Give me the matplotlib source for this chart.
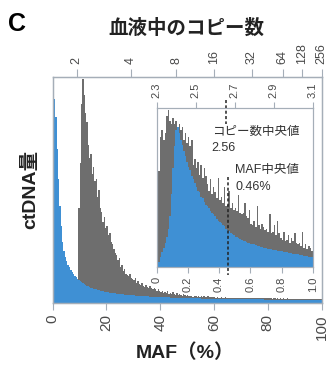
import numpy as np
import matplotlib
matplotlib.use('Agg')
import matplotlib.pyplot as plt

# ---- data ----
# main panel: MAF 0-100 %, 0.5 % bins
main_blue = [
    88, 90, 82, 68, 55, 43, 34, 27, 23, 20.5,
    18.5, 17, 15.8, 14.6, 13.6, 12.8, 12, 11.3, 10.7, 10.1,
    9.5, 9.1, 8.7, 8.3, 8.0, 7.7, 7.4, 7.1, 6.8, 6.6,
    6.4, 6.2, 6.0, 5.8, 5.6, 5.5, 5.3, 5.2, 5.0, 4.9,
    4.8, 4.7, 4.6, 4.5, 4.4, 4.3, 4.2, 4.1, 4.0, 3.95,
    3.9, 3.85, 3.8, 3.7, 3.65, 3.6, 3.55, 3.5, 3.45, 3.4,
    3.35, 3.3, 3.25, 3.2, 3.15, 3.1, 3.05, 3.0, 3.0, 2.95,
    2.9, 2.9, 2.85, 2.8, 2.8, 2.75, 2.7, 2.7, 2.65, 2.6,
    2.6, 2.55, 2.55, 2.5, 2.5, 2.45, 2.45, 2.4, 2.4, 2.35,
    2.35, 2.3, 2.3, 2.3, 2.25, 2.25, 2.2, 2.2, 2.2, 2.15,
    2.15, 2.1, 2.1, 2.1, 2.05, 2.05, 2.0, 2.0, 2.0, 2.0,
    1.95, 1.95, 1.95, 1.9, 1.9, 1.9, 1.9, 1.85, 1.85, 1.85,
    1.85, 1.8, 1.8, 1.8, 1.8, 1.8, 1.75, 1.75, 1.75, 1.75,
    1.75, 1.7, 1.7, 1.7, 1.7, 1.7, 1.7, 1.65, 1.65, 1.65,
    1.65, 1.65, 1.65, 1.6, 1.6, 1.6, 1.6, 1.6, 1.6, 1.6,
    1.55, 1.55, 1.55, 1.55, 1.55, 1.55, 1.55, 1.5, 1.5, 1.5,
    1.5, 1.5, 1.5, 1.5, 1.5, 1.45, 1.45, 1.45, 1.45, 1.45,
    1.45, 1.45, 1.45, 1.45, 1.4, 1.4, 1.4, 1.4, 1.4, 1.4,
    1.4, 1.4, 1.4, 1.4, 1.4, 1.35, 1.35, 1.35, 1.35, 1.35,
    1.35, 1.35, 1.35, 1.35, 1.35, 1.3, 1.3, 1.3, 1.3, 1.3,
]
main_gray = [
    0, 0, 0, 0, 0, 0, 0, 0, 0, 0,
    0, 0, 0, 0, 0, 0, 0, 0, 0, 42,
    62, 88, 99, 92, 84, 80, 70, 64, 66, 57,
    60, 54, 55, 47, 50, 42, 40, 36, 38, 33,
    34, 30, 31, 27, 26, 24, 22, 21, 19, 20,
    16, 17, 14, 15, 13, 12.5, 12, 13, 11, 10.5,
    10, 11, 9, 9.5, 8.5, 8, 9, 7.5, 7, 8,
    7, 6.5, 7.5, 6.5, 6, 6.5, 6, 5.5, 6, 5.5,
    5, 5.5, 4.5, 5, 4.5, 5.5, 4, 4.5, 4, 5,
    4, 3.5, 4.5, 3.5, 4, 3.5, 3, 4, 3.5, 3,
    3.4, 2.9, 3.3, 2.9, 2.7, 3.1, 2.9, 2.7, 3.1, 2.7,
    2.9, 2.6, 2.9, 2.7, 2.5, 2.9, 2.6, 2.5, 2.8, 2.5,
    2.5, 2.4, 2.6, 2.4, 2.3, 2.5, 2.4, 2.3, 2.5, 2.3,
    2.4, 2.3, 2.2, 2.4, 2.3, 2.2, 2.4, 2.2, 2.3, 2.2,
    2.3, 2.2, 2.1, 2.3, 2.2, 2.1, 2.2, 2.1, 2.3, 2.1,
    2.2, 2.1, 2.1, 2.2, 2.0, 2.1, 2.2, 2.0, 2.1, 2.0,
    2.1, 2.0, 2.1, 1.9, 2.0, 2.1, 1.9, 2.0, 1.9, 2.0,
    1.9, 2.0, 1.9, 1.9, 2.0, 1.8, 1.9, 1.9, 1.8, 1.9,
    1.8, 1.9, 1.8, 1.8, 1.9, 1.8, 1.7, 1.8, 1.8, 1.7,
    1.8, 1.7, 1.7, 1.8, 1.7, 1.7, 1.6, 1.7, 1.7, 1.6,
]

# inset: MAF 0-1 %, 0.01 % bins
inset_gray = [
    58, 60, 82, 86, 80, 84, 95, 99, 92, 90,
    94, 90, 92, 88, 90, 86, 88, 80, 84, 78,
    82, 76, 80, 64, 68, 62, 66, 58, 64, 56,
    62, 57, 52, 48, 55, 46, 50, 47, 43, 56,
    42, 44, 40, 50, 38, 39, 48, 37, 40, 36,
    37, 35, 45, 34, 33, 34, 40, 32, 31, 36,
    27, 26, 29, 25, 38, 26, 24, 27, 25, 23,
    24, 22, 33, 21, 22, 26, 20, 29, 21, 18,
    17, 22, 16, 17, 20, 15, 18, 16, 21, 15,
    14, 15, 13, 22, 12, 14, 11, 13, 12, 10,
]
inset_blue = [
    2, 3, 6, 9, 12, 15, 19, 24, 32, 46,
    62, 76, 86, 88, 84, 80, 77, 73, 70, 66,
    63, 61, 57, 55, 53, 50, 48, 47, 44, 43,
    41, 39, 38, 37, 35, 34, 33, 32, 30, 29,
    28, 27.5, 26, 25.5, 24, 23, 22.5, 21, 20.5, 20,
    19, 18.5, 18, 17.5, 17, 16.5, 16, 15.5, 15.2, 15,
    14.5, 14.2, 14, 13.5, 13.2, 13, 12.6, 12.4, 12, 11.8,
    11.6, 11.4, 11.2, 11, 10.8, 10.6, 10.4, 10.2, 10, 9.8,
    9.6, 9.4, 9.2, 9, 8.9, 8.7, 8.5, 8.3, 8.1, 8,
    7.8, 7.6, 7.4, 7.2, 7, 6.8, 6.6, 6.4, 6.2, 6,
]

maf_ticks = [0, 20, 40, 60, 80, 100]
cn_tick_pos = [8.9, 29, 46, 60, 74, 85.6, 92.6, 100]
cn_tick_labels = ['2', '4', '8', '16', '32', '64', '128', '256']
inset_maf_ticks = [0, 0.2, 0.4, 0.6, 0.8, 1.0]
inset_cn_pos = [0, 0.25, 0.5, 0.75, 1.0]
inset_cn_labels = ['2.3', '2.5', '2.7', '2.9', '3.1']
cn_median_pos = 0.445
maf_median = 0.46

blue = '#3f90d4'
gray = '#6e6e6e'
spine_c = '#a5aeb8'
tick_c = '#4a4a4a'
jp = ['Liberation Sans', 'Noto Sans CJK JP']

fig = plt.figure(figsize=(3.26, 3.65), dpi=100)

# ---- main panel ----
ax = fig.add_axes([0.1617, 0.1699, 0.8245, 0.620])
edges = np.linspace(0, 100, len(main_gray) + 1)
ax.stairs(main_gray, edges, fill=True, color=gray, linewidth=0)
ax.stairs(main_blue, edges, fill=True, color=blue, linewidth=0)
ax.set_xlim(0, 100)
ax.set_ylim(0, 100)
ax.set_yticks([])
ax.set_xticks(maf_ticks)
ax.set_xticklabels([str(t) for t in maf_ticks], rotation=90,
                   fontsize=11, color=tick_c, family='Liberation Sans')
ax.tick_params(axis='x', direction='out', length=5, width=0.8,
               color=spine_c, pad=3)
for s in ax.spines.values():
    s.set_color(spine_c)
    s.set_linewidth(1.0)

top = ax.twiny()
top.set_xlim(0, 100)
top.set_xticks(cn_tick_pos)
top.set_xticklabels(cn_tick_labels, rotation=90, fontsize=9,
                    color=tick_c, family='Liberation Sans')
top.tick_params(axis='x', direction='out', length=6, width=0.8,
                color=spine_c, pad=3)
for s in top.spines.values():
    s.set_color(spine_c)

# ---- inset ----
ins = fig.add_axes([0.4807, 0.2693, 0.4785, 0.4348])
ins.set_facecolor('white')
iedges = np.linspace(0, 1, len(inset_gray) + 1)
ins.stairs(inset_gray, iedges, fill=True, color=gray, linewidth=0)
ins.stairs(inset_blue, iedges, fill=True, color=blue, linewidth=0)
ins.set_xlim(0, 1)
ins.set_ylim(0, 100)
ins.set_yticks([])
ins.set_xticks(inset_maf_ticks)
ins.set_xticklabels(['0', '0.2', '0.4', '0.6', '0.8', '1.0'], rotation=90,
                    fontsize=8, color=tick_c, family='Liberation Sans')
ins.tick_params(axis='x', direction='out', length=4, width=0.8,
                color=spine_c, pad=3)
for s in ins.spines.values():
    s.set_color(spine_c)

itop = ins.twiny()
itop.set_xlim(0, 1)
itop.set_xticks(inset_cn_pos)
itop.set_xticklabels(inset_cn_labels, rotation=90, fontsize=8,
                     color=tick_c, family='Liberation Sans')
itop.tick_params(axis='x', direction='out', length=4, width=0.8,
                 color=spine_c, pad=3)
for s in itop.spines.values():
    s.set_color(spine_c)

# median markers
ins.plot([cn_median_pos, cn_median_pos], [105, 90], ls=(0, (2, 1.5)),
         color='#222222', lw=1.1, clip_on=False, zorder=5)
ins.plot([maf_median, maf_median], [56.5, -5.2], ls=(0, (2, 1.5)),
         color='#222222', lw=1.1, clip_on=False, zorder=5)
ins.text(0.353, 0.849, 'コピー数中央値', transform=ins.transAxes, fontsize=9,
         family=jp, color='#333333', va='center', ha='left')
ins.text(0.353, 0.748, '2.56', transform=ins.transAxes, fontsize=9,
         family=jp, color='#333333', va='center', ha='left')
ins.text(0.502, 0.609, 'MAF中央値', transform=ins.transAxes, fontsize=9,
         family=jp, color='#333333', va='center', ha='left')
ins.text(0.502, 0.502, '0.46%', transform=ins.transAxes, fontsize=9,
         family=jp, color='#333333', va='center', ha='left')

# ---- labels ----
fig.text(0.052, 0.934, 'C', fontsize=18, fontweight='bold',
         family='Liberation Sans', ha='center', va='center')
fig.text(0.571, 0.923, '血液中のコピー数', fontsize=14, fontweight='bold',
         family=jp, ha='center', va='center', color='#222222')
fig.text(0.567, 0.033, 'MAF（%）', fontsize=14, fontweight='bold',
         family=jp, ha='center', va='center', color='#222222')
fig.text(0.0936, 0.482, 'ctDNA量', fontsize=14, fontweight='bold',
         family=jp, ha='center', va='center', rotation=90, color='#222222')

fig.savefig('out.png', dpi=100)
